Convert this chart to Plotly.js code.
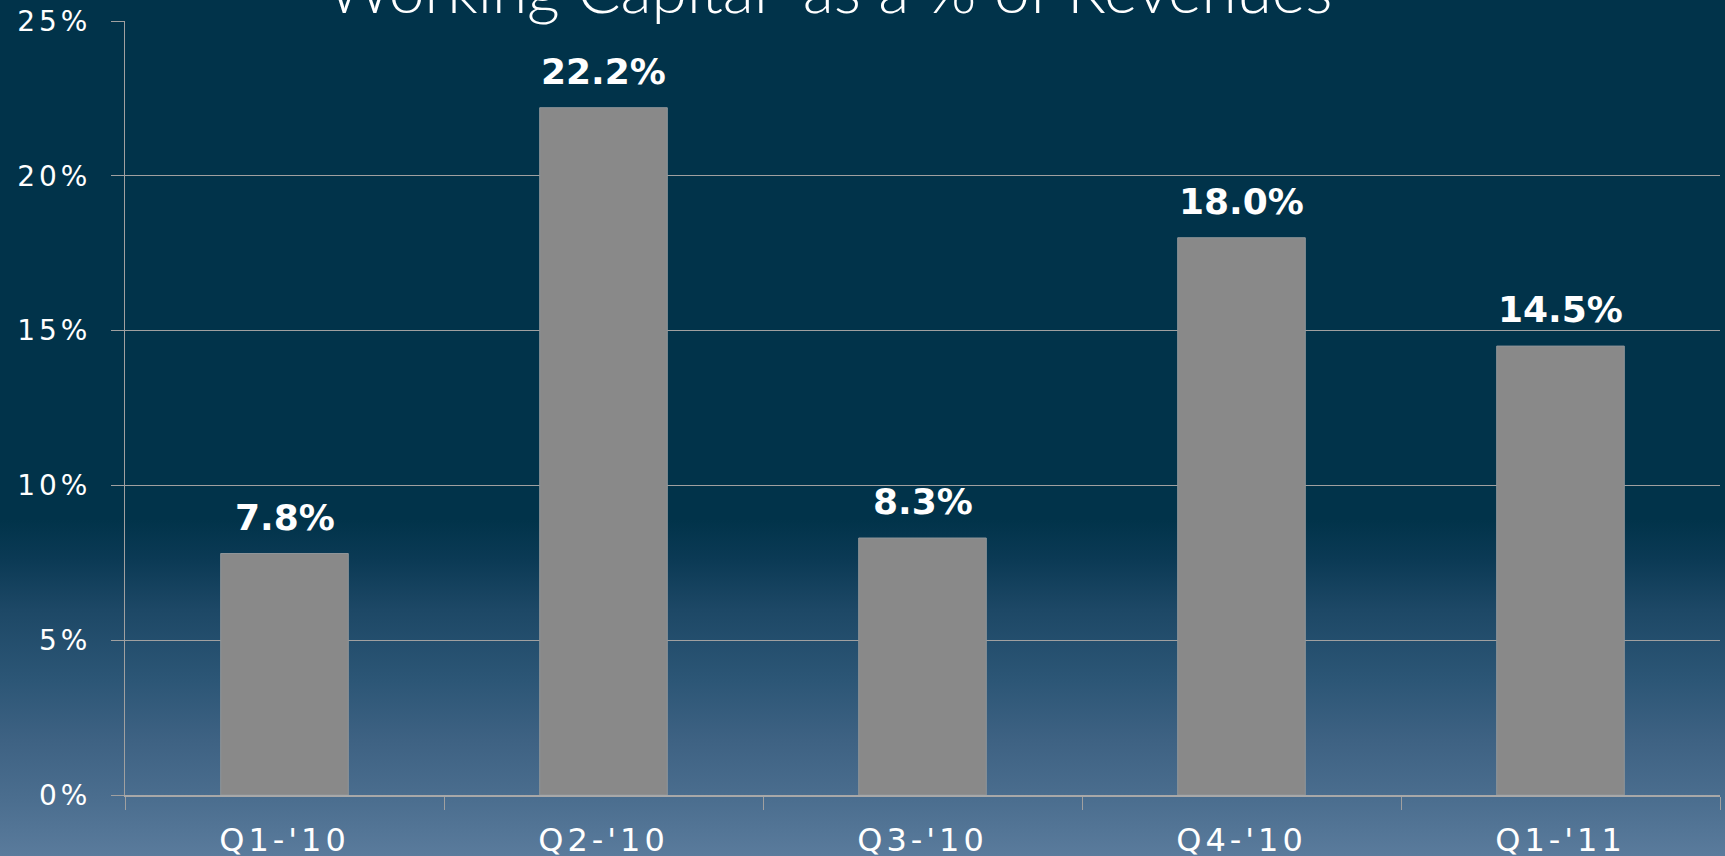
<!DOCTYPE html>
<html>
<head>
<meta charset="utf-8">
<script src="https://cdn.plot.ly/plotly-3.0.1.min.js"></script>
<style>
  html, body { margin: 0; padding: 0; }
  body {
    width: 1725px; height: 856px; overflow: hidden;
    background: linear-gradient(to bottom,
      #01334a 0px, #01334a 520px, #0b3a55 560px, #1d4866 610px,
      #2c5676 680px, #3e6283 740px, #4b6e8f 800px, #5a7b9c 856px);
  }
  #chart { width: 1725px; height: 856px; }
  .xtick text { letter-spacing: 4px; }
  .ytick text { letter-spacing: 4px; }
</style>
</head>
<body>
<div id="chart"></div>
<script>
const categories = ["Q1-'10", "Q2-'10", "Q3-'10", "Q4-'10", "Q1-'11"];
const values = [7.8, 22.2, 8.3, 18.0, 14.5];
const yTickVals = [0, 5, 10, 15, 20, 25];
const yTickText = ["0%", "5%", "10%", "15%", "20%", "25%"];
const titleText = "Working Capital  as a % of Revenues";

const trace = {
  type: 'bar',
  x: categories,
  y: values,
  marker: { color: '#898989', line: { color: '#8f9599', width: 1 } },
  hoverinfo: 'x+y'
};

const annotations = categories.map((c, i) => ({
  x: c, y: values[i], xref: 'x', yref: 'y',
  text: values[i].toFixed(1) + '%',
  showarrow: false, yanchor: 'bottom', yshift: 14,
  font: { family: 'DejaVu Sans', size: 36, color: '#ffffff', weight: 'bold' }
}));

const layout = {
  width: 1725, height: 856,
  paper_bgcolor: 'rgba(0,0,0,0)',
  plot_bgcolor: 'rgba(0,0,0,0)',
  margin: { l: 125, r: 5, t: 21, b: 61, pad: 0 },
  showlegend: false,
  bargap: 0.6,
  title: {
    text: titleText,
    font: { family: 'Lato', size: 64, color: '#ffffff', weight: 300 },
    x: 0.481, xanchor: 'center', xref: 'container',
    y: 1 - 13 / 856, yanchor: 'bottom', yref: 'container'
  },
  xaxis: {
    type: 'category',
    tickson: 'boundaries',
    ticks: 'outside', ticklen: 13, tickwidth: 1, tickcolor: '#a0a0a0',
    showline: true, linecolor: '#a8a8a8', linewidth: 2,
    showgrid: false, zeroline: false,
    tickfont: { family: 'DejaVu Sans', size: 32, color: '#ffffff' },
    ticklabelstandoff: 16
  },
  yaxis: {
    range: [0, 25],
    tickvals: yTickVals, ticktext: yTickText,
    ticks: 'outside', ticklen: 13, tickwidth: 1, tickcolor: '#a0a0a0',
    showline: true, linecolor: '#a0a0a0', linewidth: 1,
    showgrid: true, gridcolor: '#a0a0a0', gridwidth: 1,
    zeroline: false,
    tickfont: { family: 'DejaVu Sans', size: 28, color: '#ffffff' },
    ticklabelstandoff: 14
  },
  annotations: annotations
};

Plotly.newPlot('chart', [trace], layout, { displayModeBar: false, staticPlot: true });
</script>
</body>
</html>
